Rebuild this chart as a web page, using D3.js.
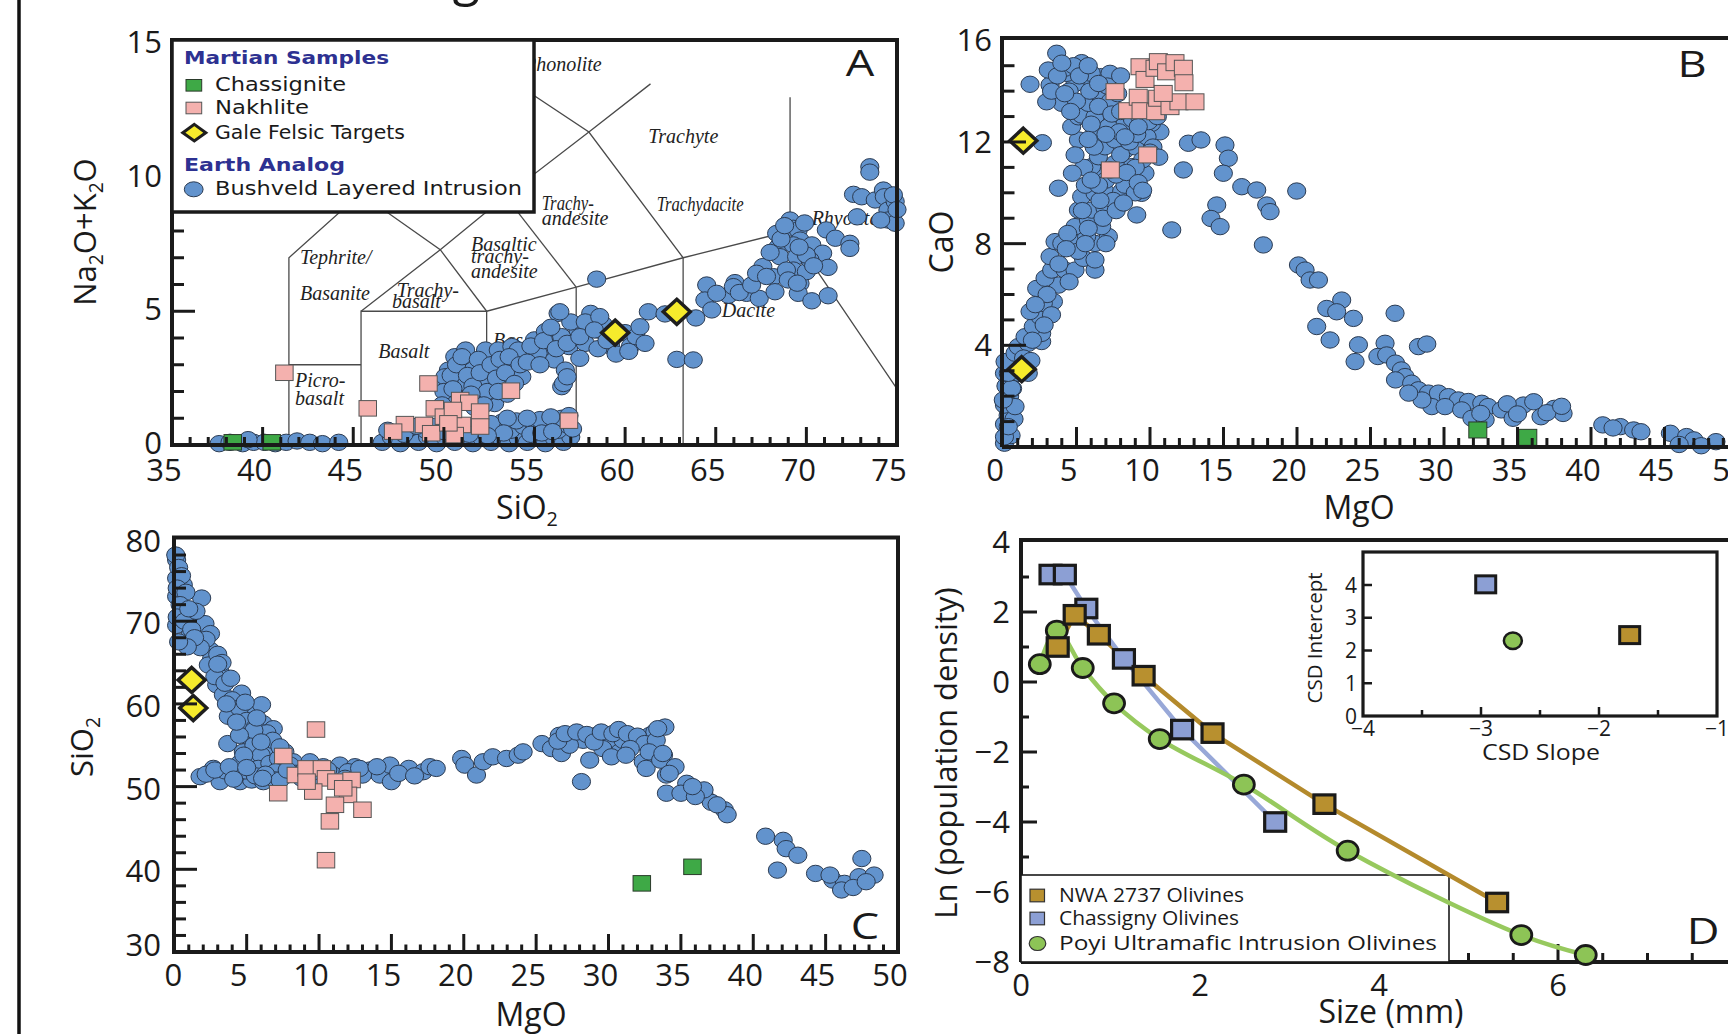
<!DOCTYPE html>
<html><head><meta charset="utf-8">
<script src="https://cdn.jsdelivr.net/npm/d3@7"></script>
<style>body{margin:0;background:#fff;overflow:hidden}svg{display:block}</style>
</head><body>
<svg id="c" width="1728" height="1034"></svg>
<script>
// ---------------- DATA ----------------
// Panel A : TAS (SiO2, Na2O+K2O)
const A_bush = [
[37.6,0.05],[38.2,0.1],[38.9,0.05],[39.5,0.1],[40.1,0.1],[40.7,0.05],[41.3,0.1],[41.9,0.15],[42.6,0.1],[43.3,0.05],[44.2,0.1],[39.2,0.2],
[46.6,0.1],[47.1,0.3],[47.6,0.05],[48.1,0.25],[48.6,0.1],[49.1,0.3],[49.6,0.05],[50.1,0.25],[50.6,0.1],[51.1,0.3],[51.6,0.05],[52.1,0.25],[52.6,0.1],[53.1,0.3],[53.6,0.05],[54.1,0.25],[54.6,0.1],[55.1,0.3],[55.6,0.05],[56.1,0.25],[56.6,0.1],[57.0,0.3],
[50.5,0.6],[51.3,0.55],[52.3,0.6],[53.0,0.65],[53.7,0.55],[54.4,0.7],[55.0,0.6],[55.7,0.7],[56.3,0.55],[56.8,0.75],[54.0,0.9],[55.3,0.95],[56.5,1.0],[53.2,0.85],[49.0,0.55],[48.0,0.6],
[46.9,0.55],[47.8,0.4],[48.5,0.7],[49.5,0.7],[50.0,0.5],[51.8,0.8],[52.6,0.8],[53.5,1.0],[54.6,1.0],[55.9,1.05],[56.9,1.1],[57.1,0.6],[54.8,0.4],[55.4,0.45],[56.0,0.5],[53.3,0.45],[52.4,0.35],[51.4,0.4],
[50.06,2.3],[50.25,2.8],[50.25,1.8],[50.6,3.3],[50.8,2.55],[51.0,2.93],[51.2,3.55],[51.2,2.05],[51.25,2.3],[51.4,3.05],[51.6,2.8],[50.4,2.05],[50.6,1.55],[50.06,2.55],[52.27,3.3],[52.8,2.93],[52.27,2.3],[52.1,1.8],[52.3,3.55],[53.0,3.55],[53.75,3.68],[53.2,2.3],[53.75,2.92],[54.3,2.55],[54.5,3.55],[54.1,3.55],[55.0,3.93],[55.8,3.68],[55.6,4.24],[55.2,3.43],[56.1,3.18],[56.5,4.05],[56.7,2.8],[56.5,2.18],[57.4,4.3],[56.9,3.68],[58.1,4.92],[58.5,4.3],[56.3,4.92],[52.8,1.55],[51.7,1.4],[52.5,2.0],[53.5,1.9],[51.0,1.6],
[50.0,2.0],[50.4,2.6],[50.7,3.0],[51.0,3.3],[51.3,2.6],[51.6,2.2],[51.9,3.2],[52.0,2.7],[52.4,2.0],[52.6,3.0],[52.9,2.5],[53.1,3.2],[53.4,2.7],[53.6,3.3],[53.9,2.3],[54.2,3.0],[54.6,3.1],[54.8,3.7],[55.3,3.0],[55.5,3.9],[55.9,4.4],[56.2,3.6],[57.0,4.6],[57.8,4.6],[57.8,3.8],[58.8,4.5],[59.2,3.7],[60.0,4.2],[60.3,3.7],[50.5,2.1],[51.5,1.9],[52.2,1.5],[53.0,2.0],[49.9,1.5],[50.3,1.2],
[56.4,4.98],[56.8,3.8],[57.5,4.05],[57.5,3.24],[56.6,2.3],[56.8,2.55],[58.6,4.8],[58.3,4.3],[58.5,3.6],[59.0,3.9],[59.5,3.4],[60.2,3.5],[60.6,4.05],[58.43,6.2],[61.28,4.98],[60.82,4.42],[61.1,3.8],[62.85,3.2],[63.76,3.18],[62.2,4.9],[63.9,4.75],
[64.5,5.98],[64.4,5.42],[64.78,5.05],[65.7,5.6],[66.06,6.07],[66.7,5.67],[67.4,5.48],[67.6,6.67],[68.2,6.29],[68.27,5.73],[68.36,7.91],[68.45,7.41],[68.54,7.04],[69.1,8.41],[69.28,8.1],[69.55,8.04],[69.65,7.66],[69.28,7.48],[69.46,7.04],[69.28,6.54],[69.65,6.04],[69.55,5.67],[70.0,6.48],[70.3,7.48],[70.3,5.39],[70.9,7.17],[71.1,8.04],[71.6,7.73],[71.2,6.64],[71.2,5.58],[72.4,7.54],[72.4,7.35],[72.6,9.37],[73.05,9.28],[73.5,10.4],[73.5,10.2],[73.8,9.16],[74.25,9.53],[74.3,9.28],[74.5,8.78],[74.5,8.41],[74.9,9.1],[74.9,8.29],[72.8,8.53],[74.1,8.41],[74.8,9.35],[75,8.8],
[65.05,5.67],[65.97,5.92],[66.3,5.7],[66.98,5.98],[67.25,6.42],[67.8,6.3],[68.0,7.2],[68.6,7.7],[68.9,6.54],[69.0,6.17],[69.5,6.05],[70.2,6.92],[70.0,7.1],[69.6,7.4],[70.4,6.7],[68.8,8.2],[69.9,8.3]
];
const A_nakh = [[41.2,2.7],[45.8,1.37],[49.15,2.3],[53.7,2.03],[56.9,0.91],[49.5,1.37],[50.9,1.68],[51.4,1.58],[52.0,1.25],[52.0,0.69],[51.0,0.75],[50.0,1.06],[48.9,0.75],[47.85,0.78],[47.2,0.5],[50.6,0.37],[49.3,0.44],[50.5,1.31],[50.25,0.81]];
const A_chas = [[38.35,0.1],[40.5,0.1]];
const A_gale = [[59.45,4.2],[62.85,4.98]];
// TAS field boundaries (as drawn on the figure)
const tasLines = [
 [[41.45,0],[41.45,7],[45.4,9.4],[49.8,7.3],[52.36,5]],
 [[41.45,3],[45.43,3]],
 [[45.43,0],[45.43,5],[52.36,5],[52.36,0]],
 [[45.43,5],[49.8,7.3],[53.4,9.3],[58.0,11.7],[61.4,13.5]],
 [[52.36,5],[57.3,5.9],[63.2,7],[69.1,8],[75,2.1]],
 [[53.4,9.3],[57.3,5.9]],
 [[57.3,0],[57.3,5.9]],
 [[63.2,0],[63.2,7]],
 [[52.9,14],[58.0,11.7],[63.2,7]],
 [[69.1,8],[69.1,13]]
];
const tasLabels = [
 ["Phonolite",54.42,13.98],["Trachyte",61.28,11.28],["Trachydacite",61.74,8.76,87],["Trachy-",55.4,8.79,52],["andesite",55.4,8.22],
 ["Rhyolite",70.29,8.22],["Tephrite/",42.06,6.77],["Basanite",42.06,5.42],["Trachy-",47.4,5.54],["basalt",47.14,5.11],
 ["Basaltic",51.5,7.25],["trachy-",51.5,6.79],["andesite",51.5,6.23],["Basalt",46.38,3.24],["Picro-",41.79,2.18],["basalt",41.79,1.5],
 ["Bas",52.71,3.67],["An",57.84,4.3],["Dacite",65.33,4.77]
];
const A_xticks = [35,40,45,50,55,60,65,70,75];
const A_yticks = [0,5,10,15];

// Panel B : MgO vs CaO
const B_bush = [
[0.1,0.15],[0.25,0.5],[0.1,0.9],[0.35,1.25],[0.1,1.65],[0.45,2.0],[0.2,2.4],[0.6,2.8],[0.3,3.2],[0.9,3.5],[0.55,0.45],[0.75,1.1],[0.65,2.3],[1.1,2.9],[0.1,2.9],[0.1,0.4],[0.36,0.8],[0.82,1.59],[0.02,1.85],[0.59,2.31],[0.36,2.9],[1.72,2.9],[0.14,3.36],[0.82,3.69],[1.04,3.95],[1.72,4.08],[1.5,4.34],[2.63,4.15],[2.63,4.47],[2.06,4.74],[2.52,5.13],[1.84,5.33],[3.43,5.72],[2.74,5.65],[2.29,6.24],[3.77,6.37],[2.86,6.64],[3.31,6.96],[4.22,6.96],[4.9,6.96],[6.26,6.96],[3.2,7.49],[5.47,7.42],[6.26,7.36],[3.54,8.08],[4.0,8.01],[4.9,8.14],[6.26,8.01],[5.69,8.28],[7.17,8.28],[4.9,8.67],[6.71,8.67],[5.81,8.93],[5.13,9.32],[6.03,9.32],[6.94,9.39],[5.35,9.85],[6.26,9.98],[6.94,10.05],[8.07,10.05],[9.43,9.98],[8.76,10.64],[9.66,10.77],[6.71,10.77],[6.03,11.03],[8.76,11.03],[7.62,11.16],[6.49,11.42],[8.3,11.68],[6.94,11.81],[8.98,11.81],[7.62,12.08],[6.26,12.21],[8.53,12.34],[9.43,12.47],[10.68,12.4],[10.1,12.73],[5.13,12.08],[4.67,12.6],[5.13,12.99],[5.35,13.06],[6.26,12.99],[7.62,12.99],[8.3,12.73],[7.17,12.6],[6.94,13.39],[5.81,13.52],[4.0,13.52],[2.97,13.58],[6.49,13.91],[6.03,14.17],[5.47,14.37],[4.9,14.3],[6.7,14.57],[7.28,14.7],[3.2,14.24],[1.84,14.27],[3.08,14.83],[4.33,14.7],[5.35,15.12],[3.65,15.49],
[4.5,14.0],[5.0,13.6],[7.3,13.6],[7.8,13.9],[8.8,12.9],[9.3,13.0],[9.8,12.2],[10.2,11.8],[9.5,11.3],[8.0,11.5],[7.0,10.5],[8.3,10.3],[9.0,10.0],[7.5,9.7],[5.8,8.6],[7.9,12.4],[6.0,12.7],[4.2,14.9],[3.7,14.6],[4.8,15.0],[3.3,14.0],[6.0,14.7],[7.1,14.2],[4.6,13.2],[5.5,11.0],[7.7,10.7],[6.6,9.7],[5.6,10.3],
[5.2,14.6],[5.9,14.0],[6.5,13.4],[7.4,13.1],[8.0,13.2],[8.6,12.0],[9.1,12.3],[9.9,12.8],[10.5,13.0],[9.0,11.0],[8.4,10.8],[7.3,10.9],[6.5,10.3],[6.0,10.5],[5.4,9.3],[6.8,9.0],[7.7,9.3],[7.0,8.0],[5.1,7.7],[4.4,8.4],[3.8,7.2],[4.5,6.5],[3.0,6.0],[3.3,5.2],[2.2,5.6],[2.8,4.8],[2.0,4.2],[1.4,3.5],[1.9,3.4],[9.2,10.4],[8.2,9.6],[10.0,11.6],[9.5,10.1],[6.2,11.8],[5.8,12.1],[7.0,12.3],[8.3,12.2],[9.2,12.6],[10.6,11.4],[4.2,13.9],[4.0,15.1],[5.8,15.0],[6.5,14.3],[8.0,14.6],[5.6,8.0],[4.3,7.8],
[2.68,11.97],[4.9,11.49],[4.72,10.77],[3.77,10.18],[9.1,9.13],[11.48,8.54],[12.27,10.9],[12.61,11.95],[13.47,12.08],[15.1,11.88],[15.33,11.36],[14.99,10.77],[16.24,10.24],[17.26,10.11],[19.98,10.07],[14.54,9.52],[14.15,8.99],[14.77,8.67],[17.94,9.52],[18.17,9.26],[17.71,7.95],[20.1,7.16],[20.55,6.96],[20.89,6.57],[21.46,6.57],[23.04,5.78],[22.02,5.45],[22.7,5.32],[23.84,5.06],[26.67,5.26],[21.34,4.74],[22.25,4.21],[24.18,4.02],[23.95,3.36],[25.99,4.08],[28.26,3.95],[28.83,4.05],[25.5,3.56],[26.1,3.62],[26.7,3.3],[27.1,3.03],[27.35,2.77],[26.7,2.64],[27.8,2.51],[28.26,2.25],[28.94,2.12],[29.62,2.12],[30.3,1.98],[30.98,1.85],[31.66,1.79],[32.57,1.72],[33.0,1.59],[29.17,1.59],[30.07,1.59],[31.2,1.46],[31.9,1.13],[32.8,1.07],[28.5,1.85],[27.6,2.12],
[32.5,1.32],[33.9,1.46],[35.4,1.65],[36.1,1.78],[37.5,1.52],[38.1,1.32],[36.6,1.19],[34.7,1.13],[34.3,1.7],[35.0,1.3],[37.0,1.35],[38.0,1.6],
[40.8,0.87],[42.0,0.8],[42.9,0.67],[45.4,0.54],[46.5,0.41],[47.0,0.28],[48.5,0.21],[46.0,0.1],[47.5,0.05],[43.4,0.6],[41.5,0.75]
];
const B_nakh = [[7.62,13.98],[8.48,13.23],[9.2,13.76],[9.39,13.23],[10.39,13.19],[10.52,13.72],[11.36,13.39],[11.97,13.58],[13.06,13.58],[9.32,14.96],[9.66,14.46],[10.34,14.9],[10.57,15.16],[11.13,14.76],[11.7,15.12],[12.27,14.9],[12.31,14.33],[9.84,11.49],[7.3,10.9],[10.9,13.91]];
const B_chas = [[32.3,0.67],[35.7,0.38]];
const B_gale = [[1.38,12.05],[1.27,3.06]];
const B_xticks = [0,5,10,15,20,25,30,35,40,45,50];
const B_yticks = [4,8,12,16];

// Panel C : MgO vs SiO2
const C_bush = [
[0.16,77.4],[0.16,75.2],[0.62,74.4],[0.16,73.0],[1.89,72.8],[0.62,71.4],[0.16,69.5],[1.66,69.9],[2.12,69.7],[1.08,68.3],[2.0,67.1],[2.47,66.5],[2.58,65.5],[2.35,64.7],[3.16,63.9],[2.93,62.3],[3.39,61.1],[4.65,61.3],[4.08,59.7],[3.73,58.5],[5.34,58.7],[6.03,59.9],[5.0,57.4],[6.15,57.6],[6.84,57.0],[5.11,56.0],[5.92,56.2],[6.61,55.2],[3.69,55.2],[4.77,54.2],[5.69,54.4],[6.61,54.0],[5.23,53.0],[7.64,54.2],[8.22,53.0],
[0.1,78],[0.3,76.5],[0.5,75.5],[0.2,74],[0.8,73.5],[0.4,72],[0.2,70.5],[0.7,70],[1.2,69],[1.5,71.2],[1.0,71.5],[2.5,68.5],[2.2,67.8],[3.0,66],[3.3,65],[2.8,63.3],[3.5,62.5],[4.0,60.5],[4.5,59.5],[5.0,58.0],[5.6,57.2],[6.4,56.5],[5.5,55.0],[6.0,53.8],[4.5,52.8],[4.8,53.8],[5.8,52.2],[6.6,52.8],[7.2,53.4],[7.0,51.8],[8.0,52.6],
[5.5,56.8],[6.8,55.6],[7.3,54.8],[6.0,55.4],[4.5,56.2],[4.3,57.8],[3.6,60.0],[4.9,60.2],[5.7,58.3],[3.9,63.1],[3.0,64.8],[1.8,66.8],[1.4,68.0],[0.9,66.9],[0.3,67.5],
[1.78,51.2],[2.7,52.2],[3.16,50.6],[3.96,51.6],[4.54,50.6],[5.34,50.8],[6.15,50.6],[6.96,50.8],[7.76,51.4],[9.37,53.0],[10.29,52.4],[11.44,52.6],[12.48,52.4],[13.5,52.0],[14.2,51.4],[14.9,52.6],[15.0,50.6],[16.2,52.2],[17.2,51.8],[17.66,52.4],[18.1,52.2],
[2.2,51.5],[3.5,51.9],[4.2,51.2],[4.9,51.9],[5.6,51.3],[6.3,51.5],[7.3,50.8],[8.4,51.6],[9.0,52.0],[10.0,51.2],[11.0,51.4],[12.0,51.8],[13.0,51.4],
[2.8,52.0],[3.8,52.4],[4.1,50.9],[5.0,52.3],[6.1,51.0],[7.8,52.0],[8.8,51.0],[9.6,51.8],[10.6,52.0],[11.8,51.0],[12.8,52.2],[14.0,52.4],[15.5,51.6],[16.6,51.3],
[19.85,53.4],[20.07,52.6],[20.88,51.4],[21.34,53.0],[22.0,53.6],[22.95,53.4],[23.76,53.8],[24.1,54.2],[25.4,55.2],[26.06,54.6],[26.6,56.2],[26.75,54.0],[27.56,55.8],[28.25,55.6],[28.7,53.2],[28.13,50.6],[29.17,56.2],[30.09,55.6],[30.78,54.2],[31.0,55.6],[31.8,55.6],[32.85,56.2],[33.2,56.6],[32.4,53.0],[32.6,52.2],[33.8,53.8],[34.0,51.4],[34.0,49.2],[29.6,54.6],[27.3,55.0],
[26.5,55.5],[27.0,56.4],[27.8,56.6],[28.5,56.3],[29.0,55.4],[29.5,56.6],[30.3,56.4],[30.7,56.9],[31.3,56.4],[32.0,56.1],[32.5,55.2],[33.3,55.6],[33.9,57.2],[33.4,57.0],[31.5,54.6],[32.8,54.2],[33.6,53.2],[30.2,53.6],[31.2,53.8],
[33.75,54.0],[34.6,52.4],[34.2,51.6],[35.4,50.4],[35.0,49.2],[36.6,49.0],[37.1,48.1],[38.0,47.2],[38.2,46.6],[36.6,49.6],[36.0,48.8],[35.8,50.0],[37.5,47.8],
[40.85,44.0],[42.07,43.5],[42.27,42.5],[43.08,41.7],[41.67,39.9],[44.3,39.5],[45.5,38.7],[46.3,38.3],[47.5,41.3],[47.3,39.1],[48.35,39.3],[46.1,37.5],[46.9,37.8],[45.3,39.3],[47.8,38.5]
];
const C_nakh = [[9.79,56.9],[7.53,53.7],[8.4,51.4],[7.18,49.2],[9.14,52.2],[10.2,52.2],[10.48,51.0],[11.2,50.6],[12.25,50.8],[9.6,49.4],[12.0,49.0],[11.1,47.8],[10.75,45.8],[13.0,47.2],[10.48,41.1],[9.14,50.6],[11.67,49.8]];
const C_chas = [[32.3,38.3],[35.8,40.3]];
const C_gale = [[1.2,62.9],[1.31,59.5]];
const C_xticks = [0,5,10,15,20,25,30,35,40,45,50];
const C_yticks = [30,40,50,60,70,80];

// Panel D : crystal size distributions
const nwaSize = [0.41,0.60,0.87,1.37,2.14,3.39,5.32];
const nwaLn   = [1.0,1.92,1.35,0.18,-1.46,-3.49,-6.3];
const chasSize = [0.33,0.49,0.73,1.15,1.80,2.84];
const chasLn   = [3.07,3.07,2.1,0.66,-1.36,-4.0];
const poyiSize = [0.21,0.40,0.69,1.04,1.55,2.49,3.65,5.59,6.31];
const poyiLn   = [0.51,1.47,0.4,-0.61,-1.63,-2.93,-4.82,-7.23,-7.8];
const D_xticks = [0,2,4,6];
const D_yticks = [4,2,0,-2,-4,-6,-8];
// Inset: CSD slope vs intercept
const insetSlope = {nwa:-1.74, chas:-2.96, poyi:-2.73};
const insetIntercept = {nwa:2.47, chas:4.02, poyi:2.3};
const I_xticks = [-4,-3,-2,-1];
const I_yticks = [0,1,2,3,4];

// ---------------- STYLE ----------------
const F = "'Open Sans','DejaVu Sans',sans-serif";
const BLUE='#6293cd', BLUE_S='#2b3b52', PINK='#f4b1ae', PINK_S='#555', GREEN='#3ea946', GREEN_S='#2a3a2a', YEL='#f6eb2c';
const NWA='#b8902f', CHS='#8c9fd4', POY='#8dc456';
const NWA_L='#b48a2c', CHS_L='#98a8d8', POY_L='#97c95e';
const RX = 9.1, RY = 8.2;
const svg = d3.select('#c');

function bush(g,data,x,y){ g.append('g').selectAll('ellipse').data(data).join('ellipse')
  .attr('cx',d=>x(d[0])).attr('cy',d=>y(d[1])).attr('rx',RX).attr('ry',RY).attr('fill',BLUE).attr('stroke',BLUE_S).attr('stroke-width',1); }
function squares(g,data,x,y,w,h,fill,stroke,sw){ g.append('g').selectAll('rect').data(data).join('rect')
  .attr('x',d=>x(d[0])-w/2).attr('y',d=>y(d[1])-h/2).attr('width',w).attr('height',h)
  .attr('fill',fill).attr('stroke',stroke).attr('stroke-width',sw); }
function diamonds(g,data,x,y,rx=13.5,ry=12.5){ g.append('g').selectAll('path').data(data).join('path')
  .attr('d',d=>{const cx=x(d[0]),cy=y(d[1]);return `M${cx},${cy-ry}L${cx+rx},${cy}L${cx},${cy+ry}L${cx-rx},${cy}Z`;})
  .attr('fill',YEL).attr('stroke','#1e1e1e').attr('stroke-width',3.5).attr('stroke-linejoin','miter'); }
function tickSet(g,vals,f,sw=3){ g.append('g').selectAll('line').data(vals).join('line')
  .attr('x1',d=>f(d)[0]).attr('y1',d=>f(d)[1]).attr('x2',d=>f(d)[2]).attr('y2',d=>f(d)[3])
  .attr('stroke','#1a1a1a').attr('stroke-width',sw); }
function range(a,b,s){ const r=[]; for(let v=a; v<=b+1e-9; v+=s) r.push(+v.toFixed(3)); return r; }
function label(g,txt,x,y,opts={}){ const t=g.append('text').attr('x',x).attr('y',y).text(txt)
  .attr('font-family',opts.family||F).attr('font-size',opts.size||31).attr('fill',opts.fill||'#1a1a1a')
  .attr('text-anchor',opts.anchor||'middle'); if(opts.weight) t.attr('font-weight',opts.weight);
  if(opts.len) t.attr('textLength',opts.len).attr('lengthAdjust','spacingAndGlyphs'); return t; }
function bigLetter(g,txt,x,y){ g.append('text').attr('transform',`translate(${x},${y}) scale(1.22,1)`).text(txt)
  .attr('font-family',F).attr('font-size',37).attr('fill','#1a1a1a').attr('text-anchor','middle'); }
function subText(g,parts,x,y,rot,size){
  const t=g.append('text').attr('font-family',F).attr('font-size',size).attr('fill','#1a1a1a').attr('text-anchor','middle')
   .attr('transform',`translate(${x},${y})`+(rot?` rotate(${rot})`:''));
  let sub=false;
  parts.forEach(([s,isSub])=>{ const ts=t.append('tspan').text(s);
    if(isSub && !sub){ ts.attr('dy',size*0.22).attr('font-size',size*0.62); sub=true; }
    else if(!isSub && sub){ ts.attr('dy',-size*0.22); sub=false; }
    else if(isSub) ts.attr('font-size',size*0.62); });
  return t; }

// left border line & cropped title fragment
svg.append('line').attr('x1',19).attr('x2',19).attr('y1',0).attr('y2',1034).attr('stroke','#111').attr('stroke-width',3.5);
label(svg,'g',466,-5,{size:50});

// ================= PANEL A =================
const Ax = d3.scaleLinear().domain([35,75]).range([172,897]);
const Ay = d3.scaleLinear().domain([0,15]).range([445,43.75]);
const gA = svg.append('g');
const ln = d3.line().x(d=>Ax(d[0])).y(d=>Ay(d[1]));
gA.append('g').selectAll('path').data(tasLines).join('path').attr('d',ln).attr('fill','none').attr('stroke','#4a4a4a').attr('stroke-width',1.3);
tasLabels.forEach(([t,s,a,len])=>{ label(gA,t,Ax(s),Ay(a),{family:"'Liberation Serif','Times New Roman',serif",size:20,anchor:'start',fill:'#222',len}).attr('font-style','italic'); });
bush(gA,A_bush,Ax,Ay);
squares(gA,A_nakh,Ax,Ay,17.5,15.5,PINK,PINK_S,1);
squares(gA,A_chas,Ax,Ay,17.5,15.5,GREEN,GREEN_S,1);
diamonds(gA,A_gale,Ax,Ay);
tickSet(gA,range(36,74,1),v=>[Ax(v),445,Ax(v),445-(v%5===0?18:8)]);
tickSet(gA,range(1,14,1),v=>[172,Ay(v),172+(v%5===0?23:12),Ay(v)]);
gA.append('rect').attr('x',172).attr('y',40).attr('width',897-172).attr('height',405).attr('fill','none').attr('stroke','#1a1a1a').attr('stroke-width',4);
A_xticks.forEach(v=>label(gA,v,Ax(v)-8,481));
A_yticks.forEach(v=>label(gA,v,162,Ay(v)+9,{anchor:'end'}));
subText(gA,[['SiO',0],['2',1]],527,519,0,32);
subText(gA,[['Na',0],['2',1],['O+K',0],['2',1],['O',0]],96,232,-90,31);
bigLetter(gA,'A',860,76);
// legend A
const LF="'DejaVu Sans',Verdana,sans-serif";
gA.append('rect').attr('x',172).attr('y',40).attr('width',534-172).attr('height',212-40).attr('fill','#fff').attr('stroke','#1a1a1a').attr('stroke-width',3.5);
const legA = [
 {t:'Martian Samples',y:64,head:true,len:205},
 {t:'Chassignite',y:91.3,m:'sq',c:GREEN,s:GREEN_S,len:131},
 {t:'Nakhlite',y:114,m:'sq',c:PINK,s:PINK_S,len:94},
 {t:'Gale Felsic Targets',y:138.7,m:'dia',len:190},
 {t:'Earth Analog',y:170.7,head:true,len:161},
 {t:'Bushveld Layered Intrusion',y:195.3,m:'circ',len:307}];
legA.forEach(e=>{
  if(e.head){ label(gA,e.t,184,e.y,{family:LF,size:18,anchor:'start',fill:'#2d3191',weight:'bold',len:e.len}); return; }
  label(gA,e.t,215,e.y,{family:LF,size:19.5,anchor:'start',len:e.len});
  const cy=e.y-6;
  if(e.m==='sq') gA.append('rect').attr('x',186).attr('y',cy-5.8).attr('width',15.7).attr('height',11.6).attr('fill',e.c).attr('stroke',e.s).attr('stroke-width',1);
  if(e.m==='dia') gA.append('path').attr('d',`M194.3,${cy-8.3}L205.8,${cy}L194.3,${cy+8.3}L182.8,${cy}Z`).attr('fill',YEL).attr('stroke','#1e1e1e').attr('stroke-width',3);
  if(e.m==='circ') gA.append('ellipse').attr('cx',193.7).attr('cy',cy).attr('rx',9.4).attr('ry',7.5).attr('fill',BLUE).attr('stroke',BLUE_S);
});

// ================= PANEL B =================
const Bx = d3.scaleLinear().domain([0,50]).range([1003,1738]);
const By = d3.scaleLinear().domain([0,16]).range([447,40.3]);
const gB = svg.append('g');
bush(gB,B_bush,Bx,By);
squares(gB,B_nakh,Bx,By,18,16,PINK,PINK_S,1);
squares(gB,B_chas,Bx,By,18,16,GREEN,GREEN_S,1);
diamonds(gB,B_gale,Bx,By);
tickSet(gB,range(1,50,1),v=>[Bx(v),447,Bx(v),447-(v%5===0?20:9)]);
tickSet(gB,range(1,15,1),v=>[1002,By(v),1002+(v%4===0?24:12.5),By(v)]);
gB.append('path').attr('d','M1002,447V38H1745M1002,447H1745').attr('fill','none').attr('stroke','#1a1a1a').attr('stroke-width',4);
B_xticks.forEach(v=>label(gB,v,Bx(v)-8,481));
B_yticks.forEach(v=>label(gB,v,992,By(v)+11,{anchor:'end'}));
subText(gB,[['MgO',0]],1359,519,0,32);
subText(gB,[['CaO',0]],953,242,-90,32);
bigLetter(gB,'B',1692,77);

// ================= PANEL C =================
const Cx = d3.scaleLinear().domain([0,50]).range([174.3,898]);
const Cy = d3.scaleLinear().domain([30,80]).range([952,538.5]);
const gC = svg.append('g');
bush(gC,C_bush,Cx,Cy);
squares(gC,C_nakh,Cx,Cy,17.5,15.5,PINK,PINK_S,1);
squares(gC,C_chas,Cx,Cy,17.5,15.5,GREEN,GREEN_S,1);
diamonds(gC,C_gale,Cx,Cy);
tickSet(gC,range(1,49,1),v=>[Cx(v),952,Cx(v),952-(v%5===0?18:7.5)]);
tickSet(gC,range(32,78,2),v=>[174,Cy(v),174+(v%10===0?23:12),Cy(v)]);
gC.append('rect').attr('x',174).attr('y',537.5).attr('width',898-174).attr('height',952-537.5).attr('fill','none').attr('stroke','#1a1a1a').attr('stroke-width',4);
C_xticks.forEach(v=>label(gC,v,Cx(v)-(v===0?1:8),986));
C_yticks.forEach(v=>label(gC,v,161,v===30?956:Cy(v)+13,{anchor:'end'}));
subText(gC,[['MgO',0]],531,1026,0,32);
subText(gC,[['SiO',0],['2',1]],93,747,-90,31);
bigLetter(gC,'C',865,939);

// ================= PANEL D =================
const Dx = d3.scaleLinear().domain([0,8]).range([1021,1737]);
const Dy = d3.scaleLinear().domain([-8,4]).range([962,542]);
const gD = svg.append('g');
tickSet(gD,range(0.5,7.5,0.5),v=>[Dx(v),962,Dx(v),962-(v%2===0?18:9)]);
tickSet(gD,range(-7,3,1),v=>[1021,Dy(v),1021+(v%2===0?16:8),Dy(v)]);
gD.append('path').attr('d','M1021,962V540H1745M1021,962H1745').attr('fill','none').attr('stroke','#1a1a1a').attr('stroke-width',4);
gD.append('rect').attr('x',1021).attr('y',875).attr('width',428).attr('height',87).attr('fill','#fff').attr('stroke','#1a1a1a').attr('stroke-width',1.6);
const nwa = d3.zip(nwaSize,nwaLn), chs = d3.zip(chasSize,chasLn), poy = d3.zip(poyiSize,poyiLn);
const lineD = d3.line().x(d=>Dx(d[0])).y(d=>Dy(d[1]));
gD.append('path').attr('d',lineD(nwa)).attr('fill','none').attr('stroke',NWA_L).attr('stroke-width',4.5);
gD.append('path').attr('d',lineD(chs)).attr('fill','none').attr('stroke',CHS_L).attr('stroke-width',4.5);
gD.append('path').attr('d',lineD.curve(d3.curveCatmullRom.alpha(0.5))(poy)).attr('fill','none').attr('stroke',POY_L).attr('stroke-width',4.5);
gD.append('g').selectAll('ellipse').data(poy).join('ellipse').attr('cx',d=>Dx(d[0])).attr('cy',d=>Dy(d[1])).attr('rx',10.5).attr('ry',9.5).attr('fill',POY).attr('stroke','#1a1a1a').attr('stroke-width',2.8);
squares(gD,chs,Dx,Dy,21,18.5,CHS,'#1a1a1a',3.2);
squares(gD,nwa,Dx,Dy,21,18.5,NWA,'#1a1a1a',3.2);
D_xticks.forEach(v=>label(gD,v,Dx(v),996));
D_yticks.forEach(v=>label(gD,String(v).replace('-','\u2212'),1010,Dy(v)+11,{anchor:'end'}));
subText(gD,[['Size (mm)',0]],1391,1023,0,32);
subText(gD,[['Ln (population density)',0]],957,753,-90,31);
bigLetter(gD,'D',1703,944);
const legD=[{t:'NWA 2737 Olivines',y:902,c:NWA,m:'sq',len:185},{t:'Chassigny Olivines',y:925,c:CHS,m:'sq',len:180},{t:'Poyi Ultramafic Intrusion Olivines',y:950,c:POY,m:'c',len:378}];
legD.forEach(e=>{ label(gD,e.t,1059,e.y,{size:20.5,anchor:'start',len:e.len});
  const cy=e.y-6.5;
  if(e.m==='sq') gD.append('rect').attr('x',1030).attr('y',cy-6.3).attr('width',14.5).attr('height',12.6).attr('fill',e.c).attr('stroke','#333').attr('stroke-width',1.2);
  else gD.append('ellipse').attr('cx',1037.5).attr('cy',cy).attr('rx',8.3).attr('ry',7).attr('fill',e.c).attr('stroke','#333').attr('stroke-width',1.2); });

// inset
const Ix = d3.scaleLinear().domain([-4,-1]).range([1363,1717]);
const Iy = d3.scaleLinear().domain([0,4]).range([716,585]);
const gI = svg.append('g');
gI.append('rect').attr('x',1363).attr('y',552).attr('width',354).attr('height',164).attr('fill','#fff').attr('stroke','#1a1a1a').attr('stroke-width',3.2);
tickSet(gI,[-3.5,-3,-2.5,-2,-1.5],v=>[Ix(v),716,Ix(v),716-(Number.isInteger(v)?9:6)],2.5);
tickSet(gI,[1,2,3,4],v=>[1363,Iy(v),1372,Iy(v)],2.5);
I_xticks.forEach(v=>label(gI,String(v).replace('-','\u2212'),Ix(v),736,{size:21}));
I_yticks.forEach(v=>label(gI,v,1357,Iy(v)+7.5,{size:21,anchor:'end'}));
label(gI,'CSD Slope',1482,760,{size:21,len:118,anchor:'start'});
subText(gI,[['CSD Intercept',0]],1322,638,-90,20.5);
gI.append('ellipse').attr('cx',Ix(insetSlope.poyi)).attr('cy',Iy(insetIntercept.poyi)).attr('rx',9).attr('ry',8.3).attr('fill',POY).attr('stroke','#1a1a1a').attr('stroke-width',2.5);
squares(gI,[[insetSlope.chas,insetIntercept.chas]],Ix,Iy,20,17,CHS,'#1a1a1a',3);
squares(gI,[[insetSlope.nwa,insetIntercept.nwa]],Ix,Iy,20,17,NWA,'#1a1a1a',3);
</script></body></html>
